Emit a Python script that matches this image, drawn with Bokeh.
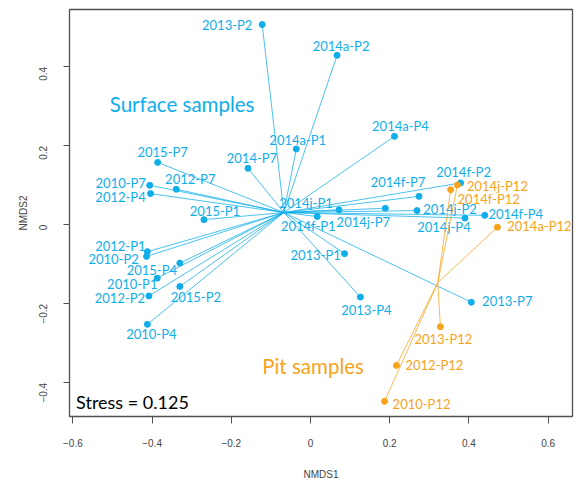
import numpy as np
from bokeh.plotting import figure
from bokeh.models import ColumnDataSource, FixedTicker, Label, Range1d
from bokeh.core.properties import value
from bokeh.embed import file_html
from bokeh.resources import INLINE

# ---- data (NMDS scores) ----
surface_names = ["2013-P2", "2014a-P2", "2014a-P4", "2014a-P1", "2014-P7", "2015-P7",
                 "2012-P7", "2010-P7", "2012-P4", "2015-P1", "2014j-P1", "2014f-P1",
                 "2014j-P7", "2014f-P7", "2014j-P2", "2014j-P4", "2014f-P4", "2014f-P2",
                 "2012-P1", "2010-P2", "2015-P4", "2010-P1", "2012-P2", "2015-P2",
                 "2010-P4", "2013-P1", "2013-P4", "2013-P7"]
surface_nmds1 = [-0.122, 0.067, 0.212, -0.036, -0.158, -0.386,
                 -0.339, -0.406, -0.404, -0.269, 0.072, 0.017,
                 0.189, 0.274, 0.269, 0.390, 0.440, 0.379,
                 -0.412, -0.414, -0.330, -0.387, -0.408, -0.330,
                 -0.412, 0.086, 0.126, 0.406]
surface_nmds2 = [0.507, 0.429, 0.224, 0.192, 0.143, 0.158,
                 0.090, 0.100, 0.079, 0.013, 0.038, 0.021,
                 0.042, 0.072, 0.036, 0.017, 0.024, 0.106,
                 -0.068, -0.080, -0.097, -0.135, -0.180, -0.156,
                 -0.252, -0.073, -0.183, -0.196]

pit_names = ["2014j-P12", "2014f-P12", "2014a-P12", "2013-P12", "2012-P12", "2010-P12"]
pit_nmds1 = [0.371, 0.354, 0.472, 0.328, 0.217, 0.187]
pit_nmds2 = [0.101, 0.089, -0.006, -0.258, -0.356, -0.447]

x_ticks = [-0.6, -0.4, -0.2, 0.0, 0.2, 0.4, 0.6]
y_ticks = [-0.4, -0.2, 0.0, 0.2, 0.4]
stress = 0.125

# ---- label placement (screen pixel offsets from each point) ----
surface_label_dx = [-35, 4, 6, 1.5, 4, 5, 14, -29, -30, 11, -33, -9, -22, -21, 33, -21, 31, 3,
                    -27, -33, -28, -25, -29, 16, 4, -29, 6, 36]
surface_label_dy = [0, -9, -10, -9, -10.5, -10.5, -10, -2, 3, -9, -7, 9, 14, -14, -2, 9, -1, -10.5,
                    -6, 3, 7, 6, 2, 11, 9.5, 1.5, 13, -1]
pit_label_dx = [40, 38, 42, 3, 38, 37]
pit_label_dy = [1, 9, -1, 12, 0, 3]

BLUE = "#0FAEEB"
ORANGE = "#F8A31C"
FONT = "Lato"


def group_source(names, xs, ys, dx, dy):
    xs = np.asarray(xs, float)
    ys = np.asarray(ys, float)
    cx, cy = xs.mean(), ys.mean()
    return ColumnDataSource(dict(name=names, x=xs, y=ys,
                                 cx=np.full(len(xs), cx), cy=np.full(len(xs), cy),
                                 dx=dx, dy=dy))


p = figure(width=577, height=486, output_backend="svg", toolbar_location=None,
           title=None,
           x_range=Range1d(-0.6086, 0.6616), y_range=Range1d(-0.4853, 0.5451),
           min_border_left=69, min_border_right=5, min_border_top=9, min_border_bottom=70)

p.grid.visible = False
p.outline_line_color = "#505050"
p.outline_line_width = 1.3
p.background_fill_color = "white"
p.border_fill_color = "white"

for ax in (p.xaxis[0], p.yaxis[0]):
    ax.axis_line_color = None
    ax.major_tick_line_color = "#505050"
    ax.major_tick_in = 0
    ax.major_tick_out = 7
    ax.minor_tick_line_color = None
    ax.major_label_text_font = "Liberation Sans"
    ax.major_label_text_font_size = "10px"
    ax.major_label_text_color = "#444444"
    ax.axis_label_text_font = "Liberation Sans"
    ax.axis_label_text_font_size = "10px"
    ax.axis_label_text_font_style = "normal"
    ax.axis_label_text_color = "#444444"

p.xaxis.ticker = FixedTicker(ticks=x_ticks)
p.yaxis.ticker = FixedTicker(ticks=y_ticks)
p.xaxis.axis_label = "NMDS1"
p.yaxis.axis_label = "NMDS2"
p.xaxis.major_label_standoff = 15
p.xaxis.axis_label_standoff = 19
p.yaxis.major_label_standoff = 20
p.yaxis.axis_label_standoff = 4
p.yaxis.major_label_orientation = np.pi / 2
p.yaxis.major_tick_out = 6

surf = group_source(surface_names, surface_nmds1, surface_nmds2, surface_label_dx, surface_label_dy)
pit = group_source(pit_names, pit_nmds1, pit_nmds2, pit_label_dx, pit_label_dy)

for src, col in ((surf, BLUE), (pit, ORANGE)):
    p.segment(x0="cx", y0="cy", x1="x", y1="y", source=src,
              line_color=col, line_width=1, line_alpha=0.75)
    p.scatter(x="x", y="y", source=src, size=6, fill_color=col, line_color=col)
    p.text(x="x", y="y", text="name", source=src, x_offset="dx", y_offset="dy",
           text_align="center", text_baseline="middle",
           text_font=value(FONT), text_font_size="13px", text_color=col)

p.add_layout(Label(x=-0.507, y=0.306, text="Surface samples", text_align="left",
                   text_baseline="middle", text_font=FONT, text_font_size="20.5px",
                   text_color=BLUE))
p.add_layout(Label(x=-0.122, y=-0.358, text="Pit samples", text_align="left",
                   text_baseline="middle", text_font=FONT, text_font_size="20.5px",
                   text_color=ORANGE))
p.add_layout(Label(x=-0.592, y=-0.449, text=f"Stress = {stress}", text_align="left",
                   text_baseline="middle", text_font=FONT, text_font_size="18px",
                   text_color="black"))

open("out.html", "w").write(file_html(p, INLINE))
